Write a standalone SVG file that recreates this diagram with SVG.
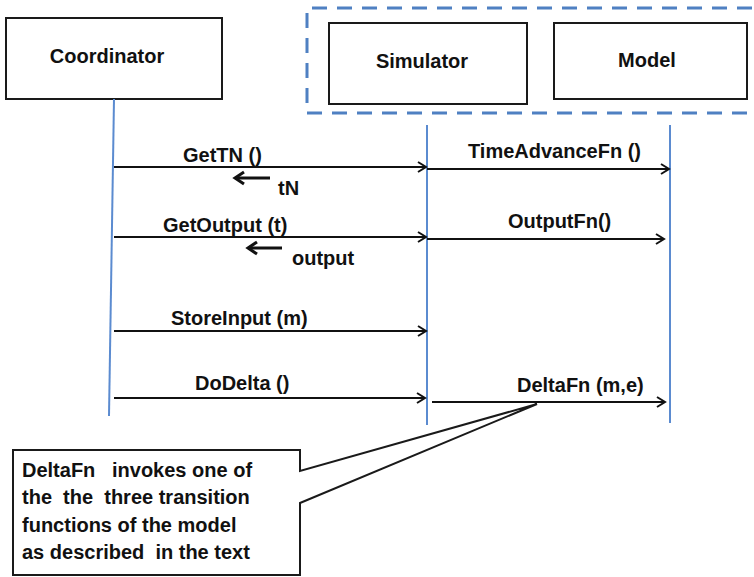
<svg xmlns="http://www.w3.org/2000/svg" width="754" height="577" viewBox="0 0 754 577">
  <style>
    .box { fill: #ffffff; stroke: #1a1a1a; stroke-width: 2; }
    .title { font-family: "Liberation Sans", Arial, sans-serif; font-weight: bold; font-size: 20px; fill: #111111; }
    .lbl { font-family: "Liberation Sans", Arial, sans-serif; font-weight: bold; font-size: 20px; fill: #111111; }
    .note { font-family: "Liberation Sans", Arial, sans-serif; font-weight: bold; font-size: 20px; fill: #111111; }
    .life { stroke: #5b8bd0; stroke-width: 2; fill: none; }
    .msg { stroke: #111111; stroke-width: 2; fill: none; marker-end: url(#open); }
    .ret { stroke: #111111; stroke-width: 3; fill: none; marker-end: url(#openThick); }
    .group { fill: none; stroke: #4f80c2; stroke-width: 3; stroke-dasharray: 15 10; }
  </style>
  <defs>
    <marker id="open" markerUnits="userSpaceOnUse" markerWidth="12" markerHeight="12" refX="9" refY="6" orient="auto" overflow="visible">
      <path d="M1,1 L9,6 L1,11" fill="none" stroke="#111111" stroke-width="2"/>
    </marker>
    <marker id="openThick" markerUnits="userSpaceOnUse" markerWidth="14" markerHeight="14" refX="10" refY="7" orient="auto" overflow="visible">
      <path d="M1,1 L10,7 L1,13" fill="none" stroke="#111111" stroke-width="3"/>
    </marker>
  </defs>

  <rect width="754" height="577" fill="#ffffff"/>

  <!-- dashed grouping around simulator and model -->
  <path class="group" d="M752,8 L307,8 L307,113 L752,113"/>

  <g id="coordinator">
    <rect class="box" x="6" y="18" width="216" height="81"/>
    <text class="title" x="107" y="63" text-anchor="middle">Coordinator</text>
  </g>

  <g id="simulator">
    <rect class="box" x="329" y="23" width="198" height="81"/>
    <text class="title" x="422" y="68" text-anchor="middle">Simulator</text>
  </g>

  <g id="model">
    <rect class="box" x="554" y="23" width="193" height="76"/>
    <text class="title" x="647" y="67" text-anchor="middle">Model</text>
  </g>

  <!-- lifelines -->
  <g id="lifelines">
    <line class="life" x1="114" y1="99" x2="109" y2="416"/>
    <line class="life" x1="427" y1="125" x2="427" y2="425"/>
    <line class="life" x1="670" y1="125" x2="670" y2="423"/>
  </g>

  <g id="connectors">
    <line class="msg" x1="114" y1="167" x2="426" y2="167"/>
    <line class="msg" x1="427" y1="169" x2="669" y2="169"/>
    <line class="ret" x1="270" y1="178" x2="235" y2="178"/>

    <line class="msg" x1="114" y1="237" x2="426" y2="237"/>
    <line class="msg" x1="427" y1="239" x2="664" y2="239"/>
    <line class="ret" x1="282" y1="248" x2="248" y2="248"/>

    <line class="msg" x1="114" y1="331" x2="426" y2="331"/>

    <line class="msg" x1="114" y1="398" x2="425" y2="398"/>
    <line class="msg" x1="432" y1="402" x2="665" y2="402"/>
  </g>

  <g id="labels">
    <text class="lbl" x="183" y="162">GetTN ()</text>
    <text class="lbl" x="278" y="195">tN</text>
    <text class="lbl" x="468" y="158">TimeAdvanceFn ()</text>
    <text class="lbl" x="163" y="232">GetOutput (t)</text>
    <text class="lbl" x="292" y="265">output</text>
    <text class="lbl" x="508" y="228">OutputFn()</text>
    <text class="lbl" x="171" y="325">StoreInput (m)</text>
    <text class="lbl" x="195" y="390">DoDelta ()</text>
    <text class="lbl" x="517" y="392">DeltaFn (m,e)</text>
  </g>

  <g id="note">
    <polygon class="box" points="13,450 300,450 300,471 537,404 300,503 300,575 13,575"/>
    <text class="note" x="22" y="477" xml:space="preserve">DeltaFn   invokes one of</text>
    <text class="note" x="22" y="504" xml:space="preserve">the  the  three transition</text>
    <text class="note" x="22" y="532">functions of the model</text>
    <text class="note" x="22" y="559" xml:space="preserve">as described  in the text</text>
  </g>
</svg>
